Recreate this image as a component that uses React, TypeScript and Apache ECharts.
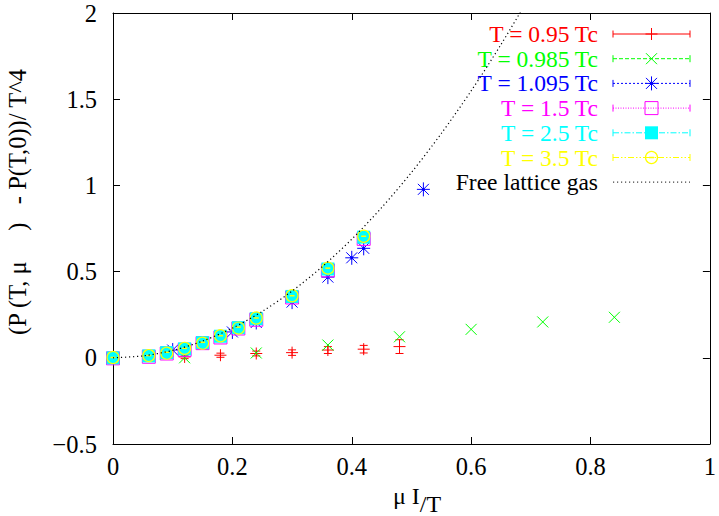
import React, { useEffect, useRef } from 'react';
import * as echarts from 'echarts';

const FONT = 'Liberation Serif, Times New Roman, serif';

// Axis ranges and tick steps
const xRange = [0, 1];
const xStep = 0.2;
const yRange = [-0.5, 2];
const yStep = 0.5;

const legendLabels = [
  'T = 0.95 Tc',
  'T = 0.985 Tc',
  'T = 1.095 Tc',
  'T = 1.5 Tc',
  'T = 2.5 Tc',
  'T = 3.5 Tc',
];
const curveLabel = 'Free lattice gas';

// Rows: [mu_I / T, (P(T,mu) - P(T,0)) / T^4, error]
const t095: number[][] = [
  [0.12, 0.005, 0.01],
  [0.18, 0.015, 0.012],
  [0.24, 0.025, 0.014],
  [0.30, 0.03, 0.016],
  [0.36, 0.045, 0.02],
  [0.42, 0.05, 0.022],
  [0.48, 0.065, 0.04],
];
const t0985: number[][] = [
  [0.12, 0.0],
  [0.24, 0.028],
  [0.36, 0.074],
  [0.48, 0.122],
  [0.60, 0.165],
  [0.72, 0.208],
  [0.84, 0.235],
];
const t1095: number[][] = [
  [0.10, 0.045],
  [0.20, 0.15],
  [0.24, 0.205],
  [0.30, 0.323],
  [0.36, 0.468],
  [0.40, 0.58],
  [0.42, 0.635],
  [0.52, 0.977],
];
const t15: number[][] = [
  [0.0, -0.003],
  [0.06, 0.006],
  [0.09, 0.025],
  [0.12, 0.046],
  [0.15, 0.085],
  [0.18, 0.118],
  [0.21, 0.17],
  [0.24, 0.221],
  [0.30, 0.35],
  [0.36, 0.507],
  [0.42, 0.69],
];
const t25: number[][] = [
  [0.0, 0.0],
  [0.06, 0.011],
  [0.09, 0.03],
  [0.12, 0.052],
  [0.15, 0.088],
  [0.18, 0.125],
  [0.21, 0.175],
  [0.24, 0.227],
  [0.30, 0.356],
  [0.36, 0.515],
  [0.42, 0.70],
];
const t35: number[][] = [
  [0.0, 0.002],
  [0.06, 0.013],
  [0.09, 0.032],
  [0.12, 0.055],
  [0.15, 0.09],
  [0.18, 0.128],
  [0.21, 0.178],
  [0.24, 0.231],
  [0.30, 0.36],
  [0.36, 0.52],
  [0.42, 0.705],
];
const freeGas: number[][] = [
  [0.0, 0.0],
  [0.05, 0.011],
  [0.1, 0.043],
  [0.15, 0.097],
  [0.2, 0.172],
  [0.25, 0.269],
  [0.3, 0.387],
  [0.35, 0.527],
  [0.4, 0.688],
  [0.45, 0.871],
  [0.5, 1.075],
  [0.55, 1.301],
  [0.6, 1.548],
  [0.65, 1.817],
  [0.7, 2.107],
];

type Kind = 'plus' | 'cross' | 'star' | 'square' | 'fsquare' | 'circle';

const seriesDefs: { label: string; color: string; kind: Kind; data: number[][]; dash: number[] | null }[] = [
  { label: legendLabels[0], color: '#ff0000', kind: 'plus', data: t095, dash: null },
  { label: legendLabels[1], color: '#00ff00', kind: 'cross', data: t0985, dash: [4, 2] },
  { label: legendLabels[2], color: '#0000ff', kind: 'star', data: t1095, dash: [2, 2] },
  { label: legendLabels[3], color: '#ff00ff', kind: 'square', data: t15, dash: [1, 1.5] },
  { label: legendLabels[4], color: '#00ffff', kind: 'fsquare', data: t25, dash: [6, 2, 1.5, 2] },
  { label: legendLabels[5], color: '#ffff00', kind: 'circle', data: t35, dash: [6, 2, 1.5, 2, 1.5, 2] },
];

function seg(x1: number, y1: number, x2: number, y2: number, color: string, extra: any = {}) {
  return {
    type: 'line',
    shape: { x1, y1, x2, y2 },
    style: { stroke: color, lineWidth: 1, fill: 'none', ...extra },
  };
}

function markerEls(kind: Kind, cx: number, cy: number, color: string): any[] {
  switch (kind) {
    case 'plus':
      return [seg(cx - 6, cy, cx + 6, cy, color), seg(cx, cy - 6, cx, cy + 6, color)];
    case 'cross':
      return [seg(cx - 5.5, cy - 5.5, cx + 5.5, cy + 5.5, color), seg(cx - 5.5, cy + 5.5, cx + 5.5, cy - 5.5, color)];
    case 'star':
      return [
        seg(cx - 6.5, cy, cx + 6.5, cy, color),
        seg(cx, cy - 7, cx, cy + 7, color),
        seg(cx - 5.5, cy - 5.5, cx + 5.5, cy + 5.5, color),
        seg(cx - 5.5, cy + 5.5, cx + 5.5, cy - 5.5, color),
        { type: 'circle', shape: { cx, cy, r: 1.6 }, style: { fill: color, stroke: 'none' } },
      ];
    case 'square':
      return [
        {
          type: 'rect',
          shape: { x: cx - 6.5, y: cy - 6.5, width: 13, height: 13 },
          style: { fill: 'none', stroke: color, lineWidth: 1 },
        },
      ];
    case 'fsquare':
      return [
        {
          type: 'rect',
          shape: { x: cx - 6.5, y: cy - 6.5, width: 13, height: 13 },
          style: { fill: color, stroke: 'none' },
        },
      ];
    case 'circle':
      return [
        { type: 'circle', shape: { cx, cy, r: 6 }, style: { fill: 'none', stroke: color, lineWidth: 1.2 } },
        seg(cx - 2.5, cy, cx + 2.5, cy, color, { lineWidth: 1.5 }),
      ];
  }
  return [];
}

// Tick labels use a true minus sign for negative values
const tickText = (v: number) => (v < 0 ? '\u2212' + String(-v) : String(v));

function buildOption(): any {
  const gridLeft = 113;
  const gridTop = 13;
  const gridW = 598;
  const gridH = 431;

  const axisCommon = {
    type: 'value',
    axisLine: { show: true, onZero: false, lineStyle: { color: '#000', width: 1 } },
    axisTick: { show: true, inside: true, length: 7, lineStyle: { color: '#000', width: 1 } },
    splitLine: { show: false },
  };
  const labelStyle = { color: '#000', fontSize: 24.5, fontFamily: FONT, formatter: tickText };

  const dataSeries = seriesDefs.map((d) => ({
    type: 'custom',
    name: d.label,
    data: d.data,
    encode: { x: 0, y: 1 },
    renderItem: (_params: any, api: any) => {
      const x = api.value(0);
      const y = api.value(1);
      const e = api.value(2);
      const p = api.coord([x, y]);
      const children: any[] = [];
      if (Number.isFinite(e) && e > 0) {
        const top = api.coord([x, y + e])[1];
        const bot = api.coord([x, y - e])[1];
        children.push(
          seg(p[0], top, p[0], bot, d.color),
          seg(p[0] - 4, top, p[0] + 4, top, d.color),
          seg(p[0] - 4, bot, p[0] + 4, bot, d.color),
        );
      }
      children.push(...markerEls(d.kind, p[0], p[1], d.color));
      return { type: 'group', children };
    },
  }));

  // Legend, drawn as graphic elements (text on the left, sample on the right)
  const legendEls: any[] = [];
  const rowY = (i: number) => 34 + i * 24.7;
  const textRight = 598;
  const lx1 = 613;
  const lx2 = 690;
  const lmid = (lx1 + lx2) / 2;
  const legendFont = 23.5;
  seriesDefs.forEach((d, i) => {
    const y = rowY(i);
    legendEls.push({
      type: 'text',
      x: textRight,
      y,
      style: {
        text: d.label,
        fill: d.color,
        fontSize: legendFont,
        fontFamily: FONT,
        textAlign: 'right',
        textVerticalAlign: 'middle',
      },
    });
    legendEls.push(seg(lx1, y, lx2, y, d.color, d.dash ? { lineDash: d.dash } : {}));
    legendEls.push(seg(lx1, y - 3.5, lx1, y + 3.5, d.color));
    legendEls.push(seg(lx2, y - 3.5, lx2, y + 3.5, d.color));
    legendEls.push(...markerEls(d.kind, lmid, y, d.color));
  });
  const yc = rowY(6);
  legendEls.push({
    type: 'text',
    x: textRight,
    y: yc,
    style: {
      text: curveLabel,
      fill: '#000',
      fontSize: legendFont,
      fontFamily: FONT,
      textAlign: 'right',
      textVerticalAlign: 'middle',
    },
  });
  legendEls.push(seg(lx1, yc, lx2, yc, '#444', { lineDash: [1.2, 2.8], lineWidth: 1.2 }));

  // Axis titles
  const nb = '\u00a0';
  const titleEls: any[] = [
    {
      type: 'text',
      x: 17,
      y: 202,
      rotation: Math.PI / 2,
      style: {
        text: '(P (T, \u03bc' + nb.repeat(5) + ')' + nb.repeat(3) + '- P(T,0))/ T^4',
        fill: '#000',
        fontSize: 24.5,
        fontFamily: FONT,
        textAlign: 'center',
        textVerticalAlign: 'middle',
      },
    },
    {
      type: 'text',
      x: 393,
      y: 516,
      style: {
        text: '{a|\u03bc I}{b|/T}',
        fill: '#000',
        fontSize: 24,
        fontFamily: FONT,
        textAlign: 'left',
        textVerticalAlign: 'bottom',
        rich: {
          a: { fontSize: 24, fontFamily: FONT, fill: '#000', verticalAlign: 'bottom', padding: [0, 0, 8, 0] },
          b: { fontSize: 24, fontFamily: FONT, fill: '#000', verticalAlign: 'bottom' },
        },
      },
    },
  ];

  return {
    animation: false,
    backgroundColor: '#fff',
    grid: { left: gridLeft, top: gridTop, width: gridW, height: gridH, containLabel: false },
    xAxis: [
      {
        ...axisCommon,
        min: xRange[0],
        max: xRange[1],
        interval: xStep,
        position: 'bottom',
        axisLabel: { ...labelStyle, margin: 10 },
      },
      {
        ...axisCommon,
        min: xRange[0],
        max: xRange[1],
        interval: xStep,
        position: 'top',
        axisLabel: { show: false },
      },
    ],
    yAxis: [
      {
        ...axisCommon,
        min: yRange[0],
        max: yRange[1],
        interval: yStep,
        position: 'left',
        axisLabel: { ...labelStyle, margin: 16 },
      },
      {
        ...axisCommon,
        min: yRange[0],
        max: yRange[1],
        interval: yStep,
        position: 'right',
        axisLabel: { show: false },
      },
    ],
    series: [
      ...dataSeries,
      {
        type: 'line',
        name: curveLabel,
        data: freeGas,
        smooth: 0.3,
        showSymbol: false,
        symbol: 'none',
        clip: true,
        lineStyle: { color: '#000', width: 1.2, type: [1.2, 2.8] },
        z: 5,
      },
    ],
    graphic: { elements: [...legendEls, ...titleEls] },
  };
}

export default function App() {
  const ref = useRef<HTMLDivElement>(null);
  useEffect(() => {
    if (!ref.current) return;
    const chart = echarts.init(ref.current, undefined, { renderer: 'svg' });
    chart.setOption(buildOption());
    return () => chart.dispose();
  }, []);
  return <div ref={ref} style={{ width: 719, height: 516, position: 'absolute', left: 0, top: 0 }} />;
}
